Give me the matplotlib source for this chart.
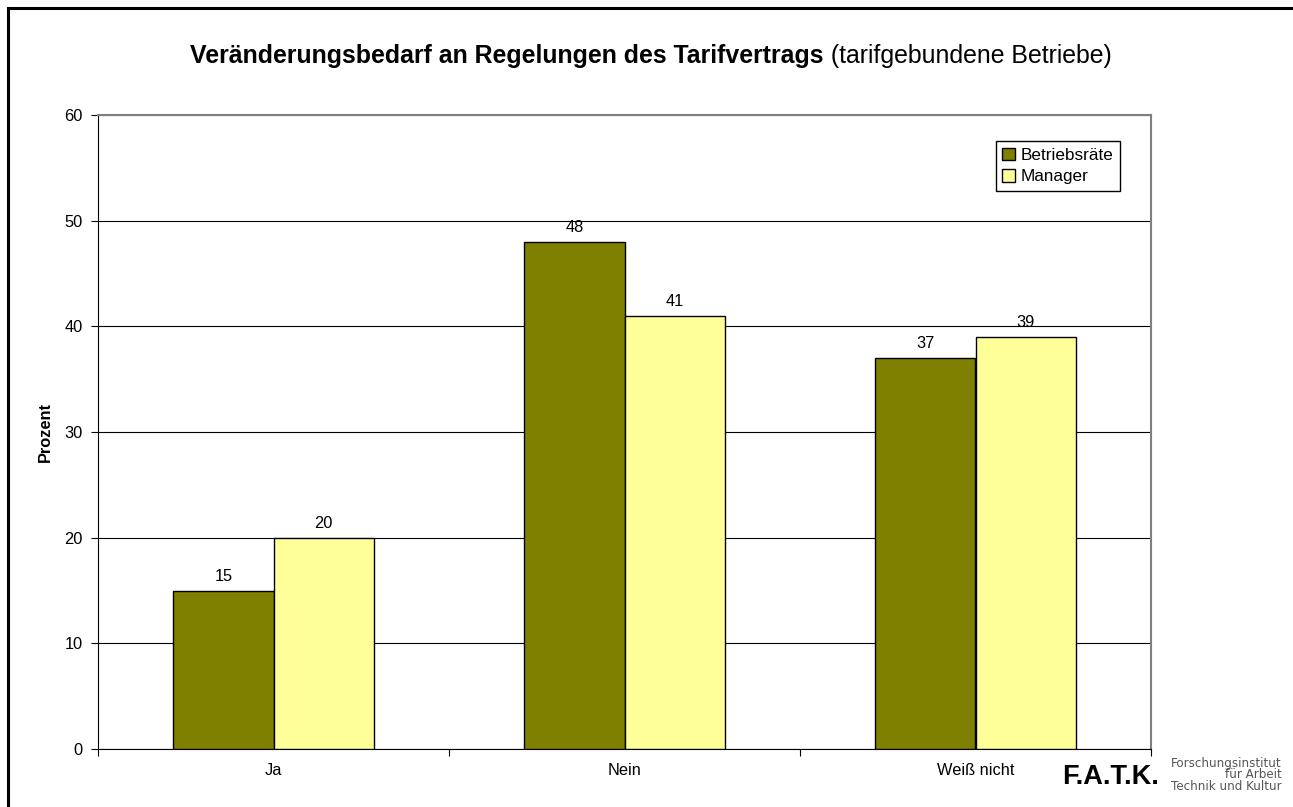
import matplotlib
matplotlib.use("Agg")
import matplotlib.pyplot as plt
from matplotlib.patches import Rectangle, Patch
import numpy as np

plt.rcParams['font.family'] = ['Liberation Sans', 'DejaVu Sans']

categories = ["Ja", "Nein", "Weiß nicht"]
betriebsraete = [15, 48, 37]
manager = [20, 41, 39]
series_names = ["Betriebsräte", "Manager"]
yticks = [0, 10, 20, 30, 40, 50, 60]

W, H = 1293, 807
fig = plt.figure(figsize=(W / 100, H / 100), dpi=100)
ax = fig.add_axes([98 / W, 1 - 749 / H, (1151 - 98) / W, (749 - 115) / H])

FS = 11.8
x = np.arange(len(categories))
bw = 0.285
b1 = ax.bar(x - bw / 2, betriebsraete, bw, color="#808000", edgecolor="black", linewidth=1, zorder=3)
b2 = ax.bar(x + bw / 2, manager, bw, color="#FFFF99", edgecolor="black", linewidth=1, zorder=3)
for bars, vals in ((b1, betriebsraete), (b2, manager)):
    for r, v in zip(bars, vals):
        ax.annotate(f"{v}", (r.get_x() + r.get_width() / 2, v), xytext=(0, 5),
                    textcoords="offset points", ha="center", va="bottom", fontsize=FS)

ax.set_xlim(-0.5, len(categories) - 0.5)
ax.set_ylim(0, 60)
ax.set_yticks(yticks)
ax.set_yticklabels([str(t) for t in yticks], fontsize=FS)
ax.yaxis.grid(True, color="black", linewidth=0.8, zorder=0)
ax.set_axisbelow(True)
ax.set_xticks(np.arange(-0.5, len(categories), 1.0))
ax.set_xticklabels([])
ax.set_xticks(x, minor=True)
ax.set_xticklabels(categories, minor=True, fontsize=FS)
ax.tick_params(axis="x", which="minor", length=0, pad=10)
ax.tick_params(axis="x", which="major", length=5, direction="out", color="black")
ax.tick_params(axis="y", length=5, direction="out", pad=6)
for s in ("top", "right"):
    ax.spines[s].set_color("#808080")
    ax.spines[s].set_linewidth(1.5)
ax.spines["left"].set_color("black")
ax.spines["bottom"].set_color("black")
ax.set_ylabel("Prozent", fontsize=FS, fontweight="bold", labelpad=8)

leg = ax.legend([Patch(facecolor="#808000", edgecolor="black"), Patch(facecolor="#FFFF99", edgecolor="black")],
                series_names, loc="upper right", bbox_to_anchor=((1120 - 98) / 1053, (749 - 141) / 634),
                borderaxespad=0, fontsize=12.3,
                fancybox=False, framealpha=1, edgecolor="black", handlelength=0.75, handleheight=0.75,
                handletextpad=0.3, borderpad=0.4, labelspacing=0.35)
leg.get_frame().set_linewidth(1)

# Title
title_bold = "Veränderungsbedarf an Regelungen des Tarifvertrags"
title_norm = " (tarifgebundene Betriebe)"
TFS = 17.95
ty = 1 - 56 / H
tb = fig.text(0, ty, title_bold, ha="left", va="center", fontsize=TFS, fontweight="bold")
tn = fig.text(0, ty, title_norm, ha="left", va="center", fontsize=TFS)
fig.canvas.draw()
w1 = tb.get_window_extent().width
w2 = tn.get_window_extent().width
left = 651 - (w1 + w2) / 2
tb.set_x(left / W)
tn.set_x((left + w1) / W)

# Outer border (left and top visible)
fig.patches.append(Rectangle((8 / W, -0.1), 1.2, (1 - 8 / H) + 0.1, transform=fig.transFigure,
                             fill=False, edgecolor="black", linewidth=2.2))

# Logo
fig.text(1062 / W, 1 - 784 / H, "F.A.T.K.", ha="left", va="baseline", fontsize=19.5, fontweight="bold")
fig.text(1282 / W, 1 - 775 / H, "Forschungsinstitut\nfür Arbeit\nTechnik und Kultur", ha="right",
         va="center", fontsize=8.6, color="#555555", linespacing=0.82, family="DejaVu Sans")

fig.savefig("out.png", dpi=100)
